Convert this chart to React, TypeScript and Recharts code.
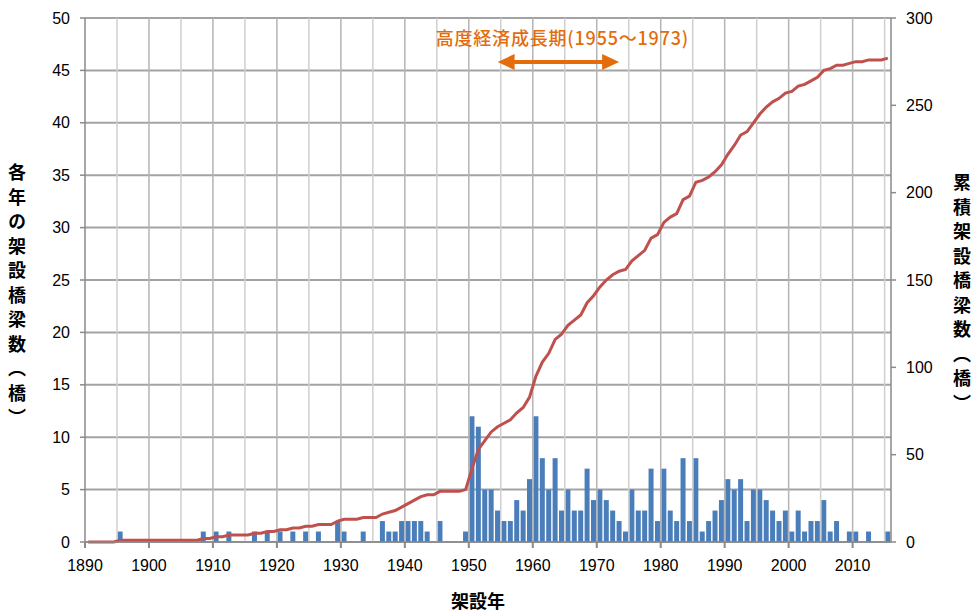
import React from 'react';
import { ComposedChart, Bar, Line, XAxis, YAxis, CartesianGrid, ReferenceLine } from 'recharts';

// Categories: construction years
const years = [
  1890, 1891, 1892, 1893, 1894, 1895, 1896, 1897, 1898, 1899,
  1900, 1901, 1902, 1903, 1904, 1905, 1906, 1907, 1908, 1909,
  1910, 1911, 1912, 1913, 1914, 1915, 1916, 1917, 1918, 1919,
  1920, 1921, 1922, 1923, 1924, 1925, 1926, 1927, 1928, 1929,
  1930, 1931, 1932, 1933, 1934, 1935, 1936, 1937, 1938, 1939,
  1940, 1941, 1942, 1943, 1944, 1945, 1946, 1947, 1948, 1949,
  1950, 1951, 1952, 1953, 1954, 1955, 1956, 1957, 1958, 1959,
  1960, 1961, 1962, 1963, 1964, 1965, 1966, 1967, 1968, 1969,
  1970, 1971, 1972, 1973, 1974, 1975, 1976, 1977, 1978, 1979,
  1980, 1981, 1982, 1983, 1984, 1985, 1986, 1987, 1988, 1989,
  1990, 1991, 1992, 1993, 1994, 1995, 1996, 1997, 1998, 1999,
  2000, 2001, 2002, 2003, 2004, 2005, 2006, 2007, 2008, 2009,
  2010, 2011, 2012, 2013, 2014, 2015,
];

// Bridges built each year (left axis)
const annualBridges = [
  0, 0, 0, 0, 0, 1, 0, 0, 0, 0,
  0, 0, 0, 0, 0, 0, 0, 0, 1, 0,
  1, 0, 1, 0, 0, 0, 1, 0, 1, 0,
  1, 0, 1, 0, 1, 0, 1, 0, 0, 2,
  1, 0, 0, 1, 0, 0, 2, 1, 1, 2,
  2, 2, 2, 1, 0, 2, 0, 0, 0, 1,
  12, 11, 5, 5, 3, 2, 2, 4, 3, 6,
  12, 8, 5, 8, 3, 5, 3, 3, 7, 4,
  5, 4, 3, 2, 1, 5, 3, 3, 7, 2,
  7, 3, 2, 8, 2, 8, 1, 2, 3, 4,
  6, 5, 6, 2, 5, 5, 4, 3, 2, 3,
  1, 3, 1, 2, 2, 4, 1, 2, 0, 1,
  1, 0, 1, 0, 0, 1,
];

// Cumulative bridges (right axis)
const cumulativeBridges = [
  0, 0, 0, 0, 0, 1, 1, 1, 1, 1,
  1, 1, 1, 1, 1, 1, 1, 1, 2, 2,
  3, 3, 4, 4, 4, 4, 5, 5, 6, 6,
  7, 7, 8, 8, 9, 9, 10, 10, 10, 12,
  13, 13, 13, 14, 14, 14, 16, 17, 18, 20,
  22, 24, 26, 27, 27, 29, 29, 29, 29, 30,
  42, 53, 58, 63, 66, 68, 70, 74, 77, 83,
  95, 103, 108, 116, 119, 124, 127, 130, 137, 141,
  146, 150, 153, 155, 156, 161, 164, 167, 174, 176,
  183, 186, 188, 196, 198, 206, 207, 209, 212, 216,
  222, 227, 233, 235, 240, 245, 249, 252, 254, 257,
  258, 261, 262, 264, 266, 270, 271, 273, 273, 274,
  275, 275, 276, 276, 276, 277,
];

const xTickLabels = [1890, 1900, 1910, 1920, 1930, 1940, 1950, 1960, 1970, 1980, 1990, 2000, 2010];
const gridYears = [
  1895, 1900, 1905, 1910, 1915, 1920, 1925, 1930, 1935, 1940, 1945, 1950,
  1955, 1960, 1965, 1970, 1975, 1980, 1985, 1990, 1995, 2000, 2005, 2010, 2015,
];
const leftTicks = [0, 5, 10, 15, 20, 25, 30, 35, 40, 45, 50];
const rightTicks = [0, 50, 100, 150, 200, 250, 300];

const periodLabel = '高度経済成長期(1955～1973)';
const periodArrowYears = [1954, 1973];
const periodArrowLevel = 45.8;

const leftTitle = '各年の架設橋梁数（橋）';
const rightTitle = '累積架設橋梁数（橋）';
const xTitle = '架設年';

const data = years.map((year, i) => ({
  year,
  annual: annualBridges[i],
  cumulative: cumulativeBridges[i],
}));

const ORANGE = '#e46c0a';
const AXIS = '#8a8a8a';
const CJK = '"Noto Sans CJK JP", "Noto Sans", sans-serif';
const LATIN = '"Liberation Sans", Arial, sans-serif';
const TICK_SIZE = 6;
const TICK_MARGIN = 9;
const TICK_FONT = 16;

const PeriodArrow = (props: any) => {
  const { x1, y1, x2, y2 } = props;
  if (x1 == null || x2 == null) return null;
  const L = 17;
  const h = 8;
  return (
    <g>
      <line x1={x1 + L - 2} y1={y1} x2={x2 - L + 2} y2={y2} stroke={ORANGE} strokeWidth={4} />
      <polygon points={`${x1},${y1} ${x1 + L},${y1 - h} ${x1 + L},${y1 + h}`} fill={ORANGE} />
      <polygon points={`${x2},${y2} ${x2 - L},${y2 - h} ${x2 - L},${y2 + h}`} fill={ORANGE} />
      <text
        x={(x1 + x2) / 2 + 4}
        y={y1 - 17}
        textAnchor="middle"
        fontSize={18}
        fontWeight={500}
        letterSpacing={0.8}
        fontFamily={CJK}
        fill={ORANGE}
      >
        {periodLabel}
      </text>
    </g>
  );
};

// Tick labels sit on the category boundaries (start of each year band)
const YearTick = (props: any) => {
  const { x, y, payload } = props;
  const half = payload && payload.offset != null ? payload.offset : 3.2;
  const bx = x - half;
  const axisY = y - TICK_SIZE - TICK_MARGIN;
  return (
    <g>
      <line x1={bx} y1={axisY} x2={bx} y2={axisY + TICK_SIZE} stroke={AXIS} strokeWidth={2} />
      <text
        x={bx}
        y={y}
        dy={14}
        textAnchor="middle"
        fontSize={TICK_FONT}
        fontFamily={LATIN}
        fill="#000"
      >
        {payload.value}
      </text>
    </g>
  );
};

const verticalTitle = (text: string, dx: number, dy: number) => (props: any) => {
  const vb = props.viewBox || {};
  return (
    <text
      x={vb.x + dx}
      y={vb.y + vb.height / 2 + dy}
      textAnchor="middle"
      fontSize={18}
      fontWeight="bold"
      fontFamily={CJK}
      fill="#000"
      letterSpacing={6.5}
      style={{ writingMode: 'vertical-rl' as any }}
    >
      {text}
    </text>
  );
};

export default function App() {
  return (
    <div style={{ position: 'absolute', left: 0, top: 0, width: 980, height: 614, background: '#fff' }}>
      <ComposedChart
        width={980}
        height={614}
        data={data}
        margin={{ top: 18, right: 20, bottom: 0, left: 0 }}
      >
        <CartesianGrid yAxisId="left" vertical={false} stroke="#a3a3a3" strokeWidth={2} />
        {gridYears.map((gy) => (
          <ReferenceLine
            key={gy}
            yAxisId="left"
            x={gy}
            position="start"
            stroke={gy % 10 === 0 ? '#b4b4b4' : '#cfcfcf'}
            strokeWidth={1.5}
          />
        ))}
        <XAxis
          dataKey="year"
          type="category"
          ticks={xTickLabels}
          interval={0}
          height={72}
          axisLine={{ stroke: AXIS, strokeWidth: 1.5 }}
          tickLine={false}
          tickSize={TICK_SIZE}
          tickMargin={TICK_MARGIN}
          tick={<YearTick />}
          label={{
            value: xTitle,
            position: 'insideBottom',
            offset: 6,
            dx: -10,
            style: { fontSize: 18, fontWeight: 'bold', fill: '#000', fontFamily: CJK },
          }}
        />
        <YAxis
          yAxisId="left"
          width={85}
          domain={[0, 50]}
          ticks={leftTicks}
          interval={0}
          axisLine={{ stroke: AXIS, strokeWidth: 1.5 }}
          tickLine={{ stroke: AXIS, strokeWidth: 1.5 }}
          tickSize={5}
          tickMargin={10}
          tick={{ fontSize: TICK_FONT, fill: '#000', fontFamily: LATIN }}
          label={{ content: verticalTitle(leftTitle, 17, 18) }}
        />
        <YAxis
          yAxisId="right"
          orientation="right"
          width={69}
          domain={[0, 300]}
          ticks={rightTicks}
          interval={0}
          axisLine={{ stroke: AXIS, strokeWidth: 1.5 }}
          tickLine={{ stroke: AXIS, strokeWidth: 1.5 }}
          tickSize={5}
          tickMargin={10}
          tick={{ fontSize: TICK_FONT, fill: '#000', fontFamily: LATIN }}
          label={{ content: verticalTitle(rightTitle, 71, 16) }}
        />
        <Bar
          yAxisId="left"
          dataKey="annual"
          fill="#4a7ebb"
          barCategoryGap="11%"
          isAnimationActive={false}
        />
        <Line
          yAxisId="right"
          dataKey="cumulative"
          type="linear"
          stroke="#c0504d"
          strokeWidth={3}
          dot={false}
          activeDot={false}
          isAnimationActive={false}
        />
        <ReferenceLine
          yAxisId="left"
          segment={[
            { x: periodArrowYears[0], y: periodArrowLevel },
            { x: periodArrowYears[1], y: periodArrowLevel },
          ]}
          stroke={ORANGE}
          shape={PeriodArrow}
        />
      </ComposedChart>
    </div>
  );
}
